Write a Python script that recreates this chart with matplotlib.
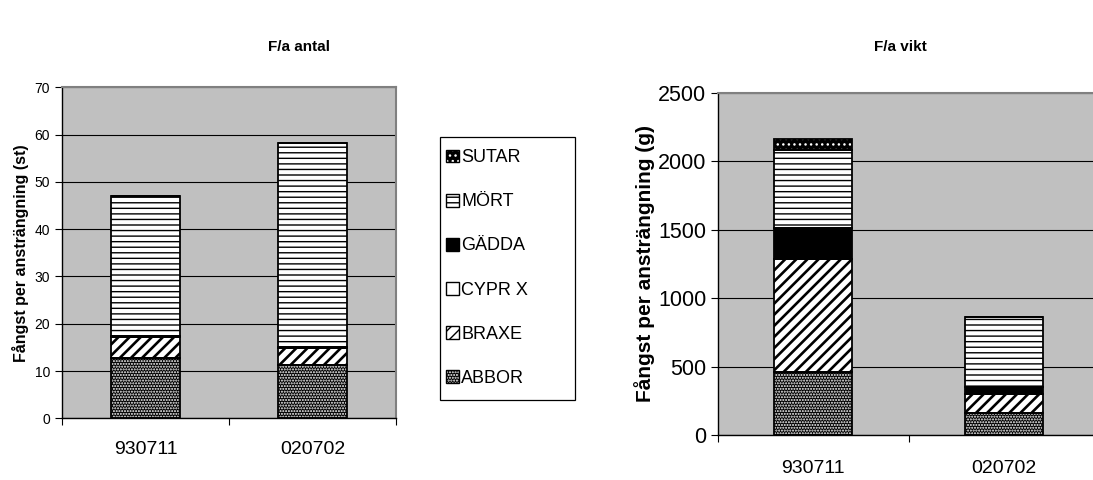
import matplotlib
matplotlib.use("Agg")
import matplotlib.pyplot as plt
from matplotlib.patches import Patch, Rectangle
from matplotlib.legend_handler import HandlerTuple
import numpy as np

plt.rcParams['font.family'] = ['Liberation Sans', 'DejaVu Sans']
plt.rcParams['hatch.linewidth'] = 1.0

# data
dates = ['930711', '020702']
species = ['ABBOR', 'BRAXE', 'CYPR X', 'GÄDDA', 'MÖRT', 'SUTAR']

# catch per effort, number of fish (st)
antal_abbor = [12.8, 11.3]
antal_braxe = [4.3, 3.5]
antal_cypr = [0.0, 0.0]
antal_gadda = [0.3, 0.3]
antal_mort = [29.7, 43.2]
antal_sutar = [0.0, 0.0]

# catch per effort, weight (g)
vikt_abbor = [458, 158]
vikt_braxe = [825, 139]
vikt_cypr = [0, 0]
vikt_gadda = [227, 56]
vikt_mort = [572, 507]
vikt_sutar = [78, 0]

# fill style per species: facecolor, hatch, hatch colour, hatch width
styles = {
    'ABBOR': ('black', '......', 'white', 1.0),
    'BRAXE': ('white', '///', 'black', 1.9),
    'CYPR X': ('white', None, 'white', 1.0),
    'GÄDDA': ('black', None, 'black', 1.0),
    'MÖRT': ('white', '---', 'black', 1.0),
    'SUTAR': ('black', '...', 'white', 1.0),
}

BG = '#c0c0c0'


def draw_stack(ax, series, width=0.41):
    x = np.arange(len(dates))
    bottom = np.zeros(len(dates))
    for name, vals in zip(species, series):
        vals = np.array(vals, dtype=float)
        face, hatch, hcol, hlw = styles[name]
        with plt.rc_context({'hatch.linewidth': hlw}):
            # first pass: fill + hatch (hatch colour follows edgecolor)
            ax.bar(x, vals, width, bottom=bottom, color=face, hatch=hatch,
                   edgecolor=hcol, linewidth=0, zorder=2)
        # second pass: black outline
        ax.bar(x, vals, width, bottom=bottom, fill=False,
               edgecolor='black', linewidth=1.3, zorder=3)
        bottom += vals


def style_axes(ax, ymax, ystep, ytick_size, xtick_size, xpad):
    ax.set_facecolor(BG)
    ax.set_xlim(-0.5, len(dates) - 0.5)
    ax.set_ylim(0, ymax)
    ax.set_yticks(np.arange(0, ymax + 1, ystep))
    ax.yaxis.grid(True, color='black', linewidth=0.8)
    ax.set_axisbelow(True)
    # ticks at category boundaries, labels at centres
    ax.set_xticks(np.arange(-0.5, len(dates), 1.0))
    ax.set_xticklabels([])
    ax.set_xticks(np.arange(len(dates)), minor=True)
    ax.set_xticklabels(dates, minor=True, fontsize=xtick_size)
    ax.tick_params(axis='x', which='minor', length=0, pad=xpad)
    ax.tick_params(axis='x', which='major', length=5, direction='out')
    ax.tick_params(axis='y', length=5, direction='out', labelsize=ytick_size)
    for s in ['top', 'right']:
        ax.spines[s].set_color('#808080')
        ax.spines[s].set_linewidth(1.5)
    for s in ['left', 'bottom']:
        ax.spines[s].set_color('black')
        ax.spines[s].set_linewidth(1.0)


fig = plt.figure(figsize=(10.93, 4.8), dpi=100)

ax1 = fig.add_axes([0.0567, 0.1285, 0.3056, 0.6896])
draw_stack(ax1, [antal_abbor, antal_braxe, antal_cypr, antal_gadda, antal_mort, antal_sutar])
style_axes(ax1, 70, 10, 10, 14, 16)
ax1.set_ylabel('Fångst per ansträngning (st)', fontsize=11.5, fontweight='bold', labelpad=4)
fig.text(0.2735, 0.902, 'F/a antal', ha='center', va='center', fontsize=11, fontweight='bold')

ax2 = fig.add_axes([0.6569, 0.0938, 0.3486, 0.7131])
draw_stack(ax2, [vikt_abbor, vikt_braxe, vikt_cypr, vikt_gadda, vikt_mort, vikt_sutar])
style_axes(ax2, 2500, 500, 15.5, 14, 18)
ax2.set_ylabel('Fångst per ansträngning (g)', fontsize=15, fontweight='bold', labelpad=2)
fig.text(0.824, 0.902, 'F/a vikt', ha='center', va='center', fontsize=11, fontweight='bold')

# legend, top to bottom as in the chart
handles = []
for name in species[::-1]:
    face, hatch, hcol, hlw = styles[name]
    with plt.rc_context({'hatch.linewidth': hlw}):
        fill = Patch(facecolor=face, hatch=hatch, edgecolor=hcol, linewidth=0)
    outline = Patch(fill=False, edgecolor='black', linewidth=1.0)
    handles.append((fill, outline))
leg = fig.legend(handles, species[::-1], loc='center left',
                 bbox_to_anchor=(446 / 1093, 1 - 268 / 480),
                 handler_map={tuple: HandlerTuple(ndivide=1)},
                 fontsize=13, frameon=False, labelspacing=1.5,
                 handlelength=0.72, handleheight=0.72, handletextpad=0.12,
                 borderpad=0, borderaxespad=0)
fig.patches.append(Rectangle((440 / 1093, 1 - 400 / 480), 135 / 1093, 263 / 480,
                             transform=fig.transFigure, fill=False,
                             edgecolor='black', linewidth=0.9))

fig.savefig('out.png', dpi=100)
